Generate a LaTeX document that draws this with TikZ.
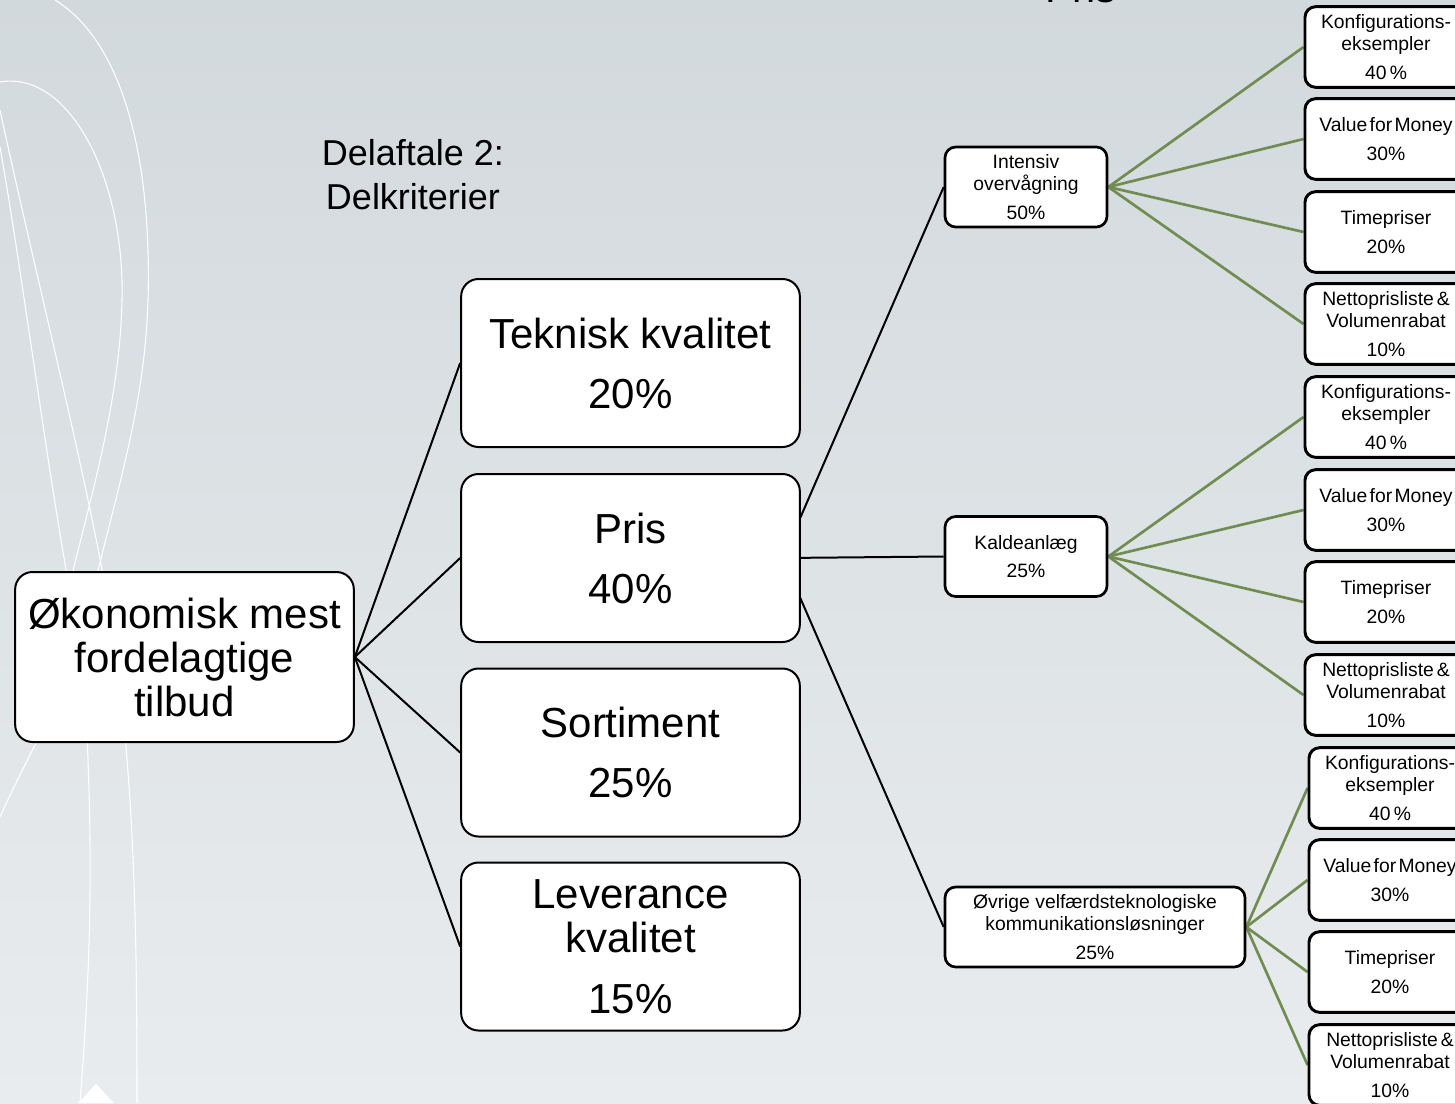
\documentclass[tikz,border=0pt]{standalone}
\usepackage{fontspec}
\setmainfont{Liberation Sans}
\definecolor{bgtop}{RGB}{210,217,220}
\definecolor{bgbot}{RGB}{233,236,239}
\definecolor{lgreen}{RGB}{112,140,80}
\newcommand{\bigf}{\fontsize{31.5}{33}\selectfont}
\newcommand{\smallf}{\fontsize{14.5}{16.5}\selectfont}
\pgfdeclarelayer{bglayer}
\pgfdeclarelayer{linelayer}
\pgfsetlayers{bglayer,linelayer,main}
\begin{document}
\begin{tikzpicture}[x=0.75pt,y=-0.75pt,
  bigbox/.style={draw=black, line width=1.5pt, rounded corners=13pt, fill=white,
    minimum width=254pt, minimum height=126pt, align=center, font=\bigf, inner sep=0pt},
  midbox/.style={draw=black, line width=2pt, rounded corners=8pt, fill=white,
    minimum width=121.5pt, minimum height=60pt, align=center, font=\smallf, inner sep=0pt},
  leafbox/.style={draw=black, line width=2.2pt, rounded corners=8pt, fill=white,
    minimum width=121.5pt, minimum height=60.5pt, align=center, font=\smallf, inner sep=0pt},
  bline/.style={draw=black, line width=1.5pt},
  gline/.style={draw=lgreen, line width=2pt},
  deco/.style={draw=white, line width=0.8pt}]
\useasboundingbox (0,0) rectangle (1455,1103);
\clip (0,0) rectangle (1455,1103);
\begin{pgfonlayer}{bglayer}
\shade[top color=bgtop, bottom color=bgbot] (0,0) rectangle (1455,1103);
% decorative white curves
\draw[deco] (55,0) .. controls (120,40) and (152,150) .. (148,300) .. controls (145,400) and (120,480) .. (97,575);
\draw[deco] (0,82) .. controls (70,70) and (125,180) .. (122,300) .. controls (120,400) and (90,500) .. (72,575);
\draw[deco] (0,147) .. controls (20,260) and (45,450) .. (67,575);
\draw[deco] (0,110) .. controls (30,250) and (80,450) .. (103,575);
\draw[deco] (40,735) .. controls (25,765) and (12,790) .. (0,817);
\draw[deco] (87,735) .. controls (92,850) and (92,950) .. (80,1103);
\draw[deco] (125,735) .. controls (135,850) and (137,950) .. (137,1103);
\fill[white] (78,1103) -- (96,1084) -- (114,1103) -- cycle;
\end{pgfonlayer}
% title texts
\node[font=\fontsize{27}{33}\selectfont, align=center] (title) at (413,175) {Delaftale 2:\\Delkriterier};
\node[font=\fontsize{31}{33}\selectfont, anchor=base west, inner sep=0pt] (pristop) at (1045,2) {Pris};
% level 0/1
\node[bigbox, minimum height=127.5pt] (root) at (184.5,657) {Økonomisk mest\\fordelagtige\\tilbud};
\node[bigbox] (tek) at (630.5,363) {Teknisk kvalitet\\[12pt]20\%};
\node[bigbox] (pris) at (630.5,558) {Pris\\[12pt]40\%};
\node[bigbox] (sort) at (630.5,752.5) {Sortiment\\[12pt]25\%};
\node[bigbox] (lev) at (630.5,946.5) {Leverance\\kvalitet\\[13pt]15\%};
% level 2
\node[midbox] (int) at (1026,187) {Intensiv\\overvågning\\[5pt]50\%};
\node[midbox] (kal) at (1026,556.5) {Kaldeanlæg\\[5pt]25\%};
\node[midbox, minimum width=225pt] (ovr) at (1095,927) {Øvrige velfærdsteknologiske\\kommunikationsløsninger\\[5pt]25\%};
% level 3
\foreach \g/\x/\a/\b/\c/\d in {a/1386/47/139/232/324, b/1386/417/510/602/695, c/1390/788/880/972/1065}{
  \node[leafbox] (\g1) at (\x,\a) {Konfigurations-\\eksempler\\[5pt]40\,\%};
  \node[leafbox] (\g2) at (\x,\b) {Value\hspace{0.12em}for\hspace{0.12em}Money\\[5pt]30\%};
  \node[leafbox] (\g3) at (\x,\c) {Timepriser\\[5pt]20\%};
  \node[leafbox] (\g4) at (\x,\d) {Nettoprisliste\hspace{0.15em}\&\\Volumenrabat\\[5pt]10\%};
}
% connectors (behind the boxes)
\coordinate (po) at ([xshift=-13.5pt]pris.east);
\begin{pgfonlayer}{linelayer}
\foreach \t in {tek,pris,sort,lev} \draw[bline] (root.east) -- (\t.west);
\foreach \t in {int,kal,ovr} \draw[bline] (po) -- (\t.west);
\foreach \i in {1,2,3,4} {
  \draw[gline] (int.east) -- (a\i.west);
  \draw[gline] (kal.east) -- (b\i.west);
  \draw[gline] (ovr.east) -- (c\i.west);
}
\end{pgfonlayer}
\end{tikzpicture}
\end{document}
